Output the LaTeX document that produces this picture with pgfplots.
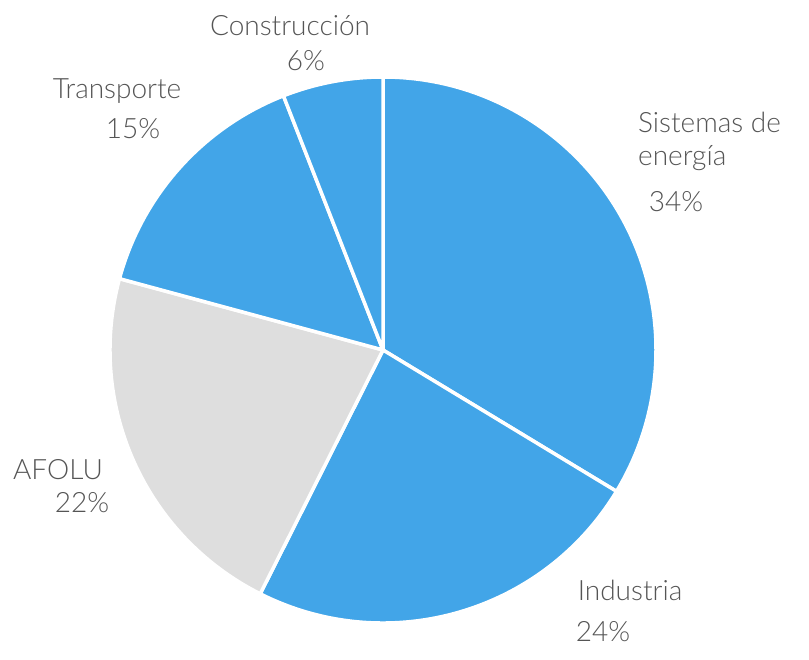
\documentclass[border=0pt]{standalone}
\usepackage{fontspec}
\setmainfont{Lato Light}
\usepackage{pgfplots}
\usepackage{pgfplotstable}
\pgfplotsset{compat=1.18}
\definecolor{pieblue}{HTML}{42A5E8}
\definecolor{piegray}{HTML}{DEDEDE}
\definecolor{txt}{HTML}{555555}

% shares in drawing order, clockwise from 12 o'clock
\pgfplotstableread[col sep=comma]{
label,value,fill
Sistemas de energía,34,pieblue
Industria,24,pieblue
AFOLU,22,piegray
Transporte,15,pieblue
Construcción,6,pieblue
}\piedata

\begin{document}
\begin{tikzpicture}[lbl/.style={font=\fontsize{28}{33}\selectfont, text=txt, inner sep=0pt}]
% total and start/end angle of each slice
\gdef\total{0}
\foreach \i in {0,...,4}{
  \pgfplotstablegetelem{\i}{value}\of\piedata
  \pgfmathsetmacro\t{\total+\pgfplotsretval}
  \xdef\total{\t}
}
\gdef\acc{0}
\foreach \i in {0,...,4}{
  \pgfplotstablegetelem{\i}{value}\of\piedata
  \pgfmathsetmacro\s{90-\acc/\total*360}
  \pgfmathsetmacro\a{\acc+\pgfplotsretval}
  \xdef\acc{\a}
  \pgfmathsetmacro\e{90-\acc/\total*360}
  \expandafter\xdef\csname pieS\i\endcsname{\s}
  \expandafter\xdef\csname pieE\i\endcsname{\e}
  \pgfplotstablegetelem{\i}{fill}\of\piedata
  \expandafter\xdef\csname pieC\i\endcsname{\pgfplotsretval}
}
\begin{axis}[
    scale only axis, clip=false,
    width=809pt, height=647pt,
    xmin=0, xmax=809, ymin=0, ymax=647,
    axis line style={draw=none}, ticks=none,
]
\pgfplotsinvokeforeach{0,...,4}{
  \fill[\csname pieC#1\endcsname, draw=white, line width=3.5pt, line join=round]
    (axis cs:383,297) -- ([shift={(\csname pieS#1\endcsname:273pt)}]axis cs:383,297)
    arc[start angle=\csname pieS#1\endcsname, end angle=\csname pieE#1\endcsname, radius=273pt]
    -- cycle;
}
\node[lbl, anchor=base west] at (axis cs:638,514) {Sistemas de};
\node[lbl, anchor=base west] at (axis cs:638,481) {energía};
\node[lbl, anchor=base] at (axis cs:676,435) {34\%};
\node[lbl, anchor=base] at (axis cs:630,46) {Industria};
\node[lbl, anchor=base] at (axis cs:603,5) {24\%};
\node[lbl, anchor=base] at (axis cs:58,167) {AFOLU};
\node[lbl, anchor=base] at (axis cs:82,134) {22\%};
\node[lbl, anchor=base] at (axis cs:117,548) {Transporte};
\node[lbl, anchor=base] at (axis cs:133,508) {15\%};
\node[lbl, anchor=base] at (axis cs:290,611) {Construcción};
\node[lbl, anchor=base] at (axis cs:306,576) {6\%};
\end{axis}
\end{tikzpicture}
\end{document}
